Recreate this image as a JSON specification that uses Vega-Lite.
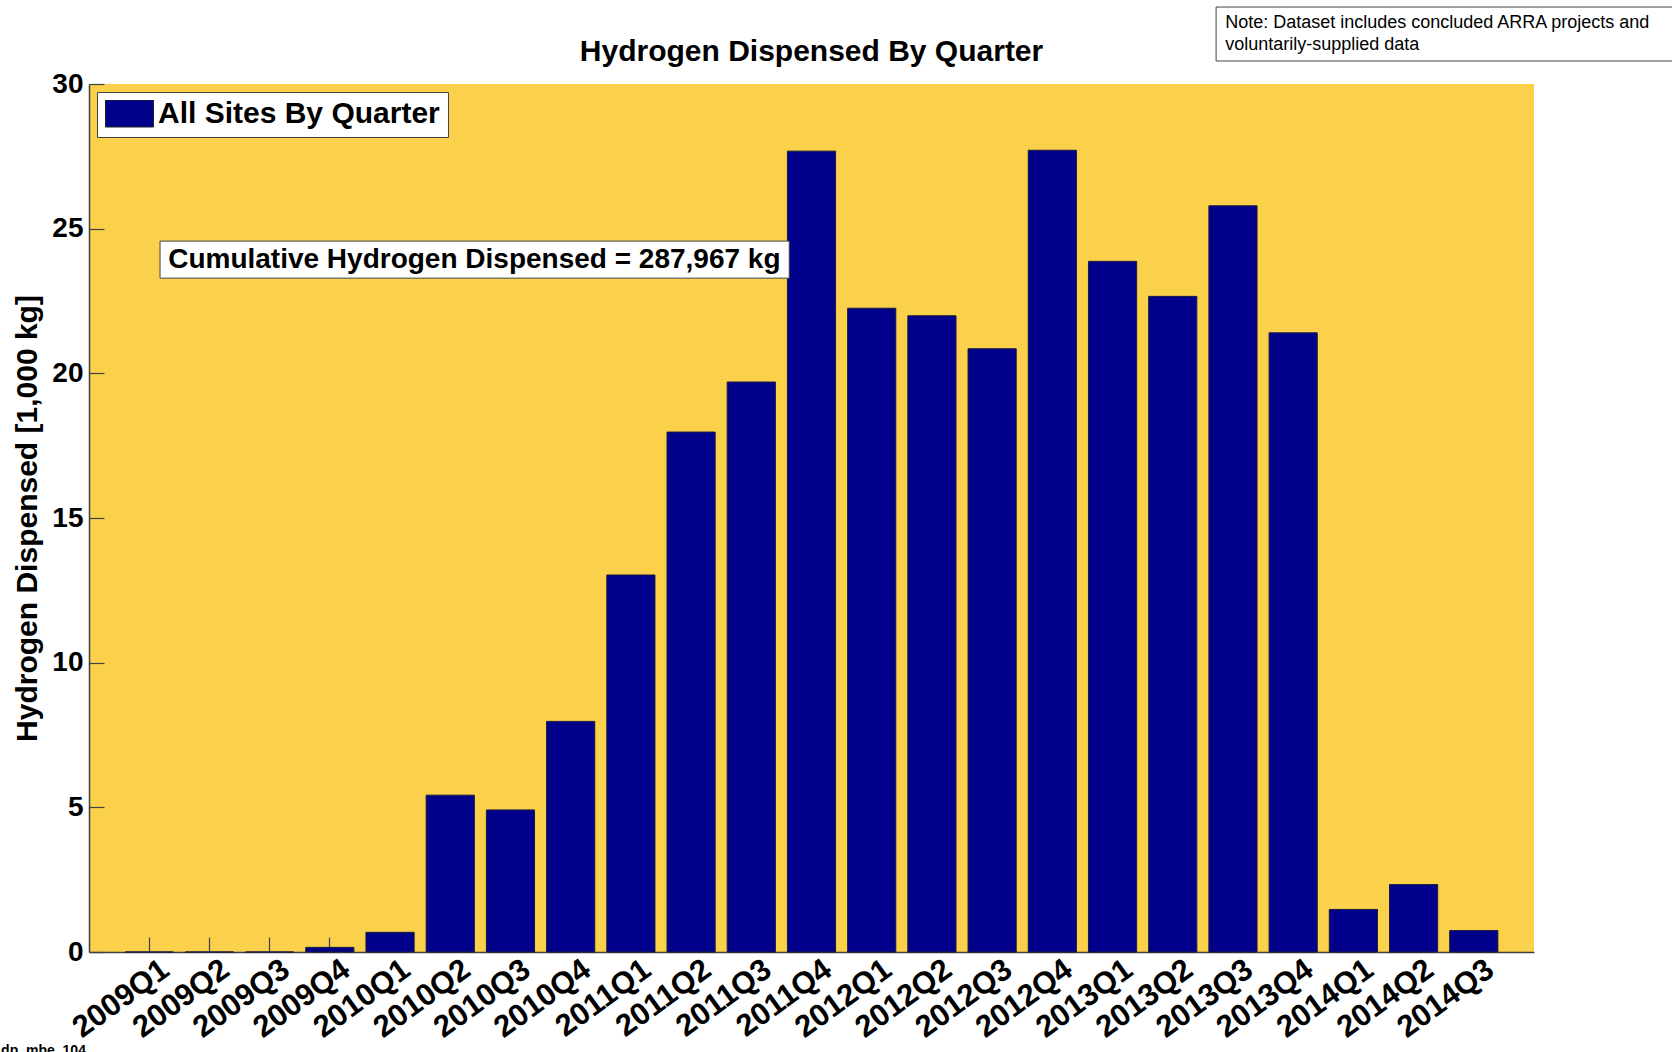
{
  "$schema": "https://vega.github.io/schema/vega-lite/v6.json",
  "width": 1445,
  "height": 868,
  "autosize": {"type": "none"},
  "padding": {"left": 89, "top": 84, "right": 138, "bottom": 100},
  "background": "white",
  "title": {
    "text": "Hydrogen Dispensed By Quarter",
    "font": "Liberation Sans",
    "fontSize": 30,
    "fontWeight": "bold",
    "color": "black",
    "anchor": "middle",
    "frame": "group",
    "offset": -60
  },
  "config": {
    "view": {"fill": "#FBD14B", "stroke": null},
    "legend": {"cornerRadius": 0}
  },
  "datasets": {
    "quarters": [
      {"quarter": "2009Q1", "value": 0, "series": "All Sites By Quarter"},
      {"quarter": "2009Q2", "value": 0, "series": "All Sites By Quarter"},
      {"quarter": "2009Q3", "value": 0, "series": "All Sites By Quarter"},
      {"quarter": "2009Q4", "value": 0.16, "series": "All Sites By Quarter"},
      {"quarter": "2010Q1", "value": 0.68, "series": "All Sites By Quarter"},
      {"quarter": "2010Q2", "value": 5.42, "series": "All Sites By Quarter"},
      {"quarter": "2010Q3", "value": 4.91, "series": "All Sites By Quarter"},
      {"quarter": "2010Q4", "value": 7.97, "series": "All Sites By Quarter"},
      {"quarter": "2011Q1", "value": 13.03, "series": "All Sites By Quarter"},
      {"quarter": "2011Q2", "value": 17.97, "series": "All Sites By Quarter"},
      {"quarter": "2011Q3", "value": 19.70, "series": "All Sites By Quarter"},
      {"quarter": "2011Q4", "value": 27.68, "series": "All Sites By Quarter"},
      {"quarter": "2012Q1", "value": 22.25, "series": "All Sites By Quarter"},
      {"quarter": "2012Q2", "value": 21.99, "series": "All Sites By Quarter"},
      {"quarter": "2012Q3", "value": 20.85, "series": "All Sites By Quarter"},
      {"quarter": "2012Q4", "value": 27.71, "series": "All Sites By Quarter"},
      {"quarter": "2013Q1", "value": 23.87, "series": "All Sites By Quarter"},
      {"quarter": "2013Q2", "value": 22.66, "series": "All Sites By Quarter"},
      {"quarter": "2013Q3", "value": 25.79, "series": "All Sites By Quarter"},
      {"quarter": "2013Q4", "value": 21.40, "series": "All Sites By Quarter"},
      {"quarter": "2014Q1", "value": 1.47, "series": "All Sites By Quarter"},
      {"quarter": "2014Q2", "value": 2.33, "series": "All Sites By Quarter"},
      {"quarter": "2014Q3", "value": 0.74, "series": "All Sites By Quarter"}
    ],
    "boxes": [
      {"name": "cumulative", "x1": 1.18, "x2": 11.63, "y1": 24.57, "y2": 23.29},
      {"name": "note", "x1": 18.72, "x2": 26.4, "y1": 32.66, "y2": 30.795}
    ],
    "cumulative": [
      {"label": "Cumulative Hydrogen Dispensed = 287,967 kg", "x": 6.40, "y": 23.93}
    ],
    "note": [
      {"label": "Note: Dataset includes concluded ARRA projects and", "x": 18.87, "y": 32.11},
      {"label": "voluntarily-supplied data", "x": 18.87, "y": 31.36}
    ],
    "footer": [
      {"label": "dp_mbe_104", "x": -1.46, "y": -3.18}
    ]
  },
  "layer": [
    {
      "data": {"name": "quarters"},
      "mark": {"type": "bar", "stroke": "#1a1a40", "strokeWidth": 1},
      "encoding": {
        "x": {
          "field": "quarter",
          "type": "nominal",
          "sort": null,
          "scale": {"type": "band", "paddingInner": 0.2, "paddingOuter": 0.6},
          "axis": {
            "title": null,
            "labelAngle": -36,
            "tickSize": -15,
            "labelPadding": 17,
            "labelOffset": 8,
            "labelFont": "Liberation Sans",
            "labelFontSize": 31,
            "labelFontWeight": "bold",
            "labelColor": "black",
            "domainColor": "#404040",
            "domainWidth": 1.5,
            "tickColor": "#404040",
            "tickWidth": 1.2,
            "labelOverlap": false,
            "grid": false
          }
        },
        "y": {
          "field": "value",
          "type": "quantitative",
          "scale": {"domain": [0, 30], "nice": false, "zero": true},
          "axis": {
            "title": "Hydrogen Dispensed [1,000 kg]",
            "values": [0, 5, 10, 15, 20, 25, 30],
            "grid": false,
            "tickSize": -15,
            "labelPadding": 21,
            "labelFont": "Liberation Sans",
            "labelFontSize": 28,
            "labelFontWeight": "bold",
            "labelColor": "black",
            "labelFlush": false,
            "labelOverlap": false,
            "titleFont": "Liberation Sans",
            "titleFontSize": 30,
            "titleFontWeight": "bold",
            "titleColor": "black",
            "titlePadding": 9,
            "domainColor": "#404040",
            "domainWidth": 1.5,
            "tickColor": "#404040",
            "tickWidth": 1.2
          }
        },
        "color": {
          "field": "series",
          "type": "nominal",
          "scale": {"range": ["#00008B"]},
          "legend": {
            "title": null,
            "orient": "top-left",
            "offset": 8,
            "fillColor": "white",
            "strokeColor": "#444444",
            "padding": 8,
            "clipHeight": 27,
            "symbolType": "M-1,-0.5625L1,-0.5625L1,0.5625L-1,0.5625Z",
            "symbolSize": 2304,
            "symbolStrokeColor": "#222222",
            "symbolStrokeWidth": 1,
            "symbolOpacity": 1,
            "labelFont": "Liberation Sans",
            "labelFontSize": 30,
            "labelFontWeight": "bold",
            "labelColor": "black",
            "labelOffset": 4,
            "labelLimit": 0
          }
        }
      }
    },
    {
      "data": {"name": "boxes"},
      "mark": {"type": "rect", "fill": "white", "stroke": "#444444", "strokeWidth": 1},
      "encoding": {
        "x": {"field": "x1", "type": "quantitative", "scale": {"domain": [0, 24], "nice": false, "zero": false}, "axis": null},
        "x2": {"field": "x2"},
        "y": {"field": "y1", "type": "quantitative", "scale": {"domain": [0, 30], "nice": false, "zero": false}, "axis": null},
        "y2": {"field": "y2"}
      }
    },
    {
      "data": {"name": "cumulative"},
      "mark": {"type": "text", "font": "Liberation Sans", "fontSize": 28, "fontWeight": "bold", "color": "black", "align": "center", "baseline": "middle"},
      "encoding": {
        "x": {"field": "x", "type": "quantitative", "scale": {"domain": [0, 24], "nice": false, "zero": false}, "axis": null},
        "y": {"field": "y", "type": "quantitative", "scale": {"domain": [0, 30], "nice": false, "zero": false}, "axis": null},
        "text": {"field": "label"}
      }
    },
    {
      "data": {"name": "note"},
      "mark": {"type": "text", "font": "Liberation Sans", "fontSize": 18, "color": "black", "align": "left", "baseline": "middle"},
      "encoding": {
        "x": {"field": "x", "type": "quantitative", "scale": {"domain": [0, 24], "nice": false, "zero": false}, "axis": null},
        "y": {"field": "y", "type": "quantitative", "scale": {"domain": [0, 30], "nice": false, "zero": false}, "axis": null},
        "text": {"field": "label"}
      }
    },
    {
      "data": {"name": "footer"},
      "mark": {"type": "text", "font": "Liberation Sans", "fontSize": 14, "fontWeight": "bold", "color": "black", "align": "left", "baseline": "top"},
      "encoding": {
        "x": {"field": "x", "type": "quantitative", "scale": {"domain": [0, 24], "nice": false, "zero": false}, "axis": null},
        "y": {"field": "y", "type": "quantitative", "scale": {"domain": [0, 30], "nice": false, "zero": false}, "axis": null},
        "text": {"field": "label"}
      }
    }
  ],
  "resolve": {"scale": {"x": "independent", "y": "independent", "color": "independent"}}
}
